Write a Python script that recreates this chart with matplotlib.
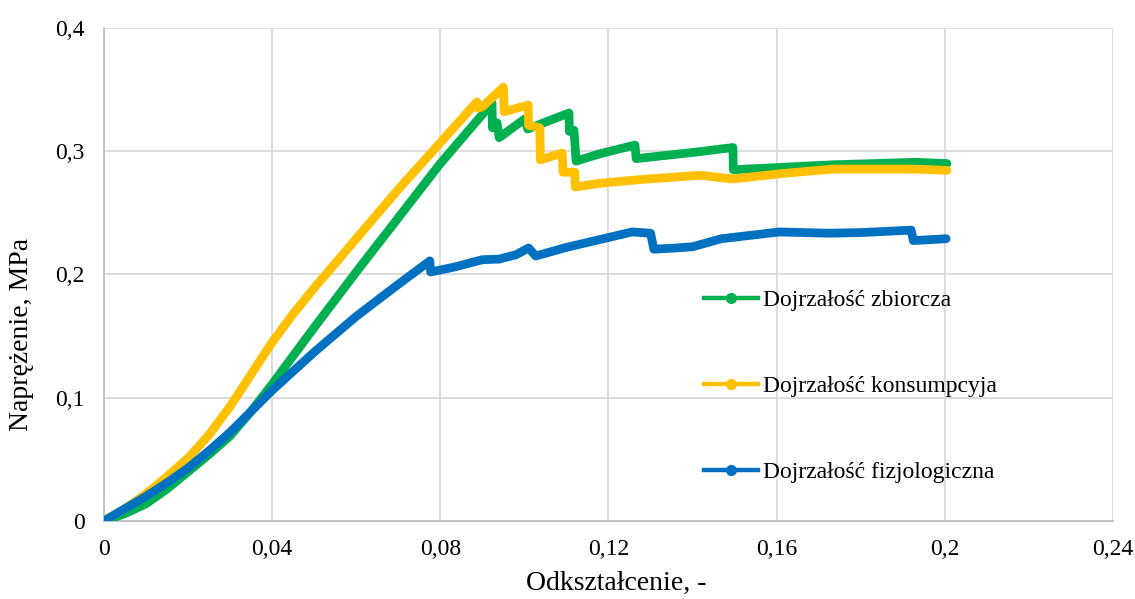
import matplotlib
matplotlib.use("Agg")
import matplotlib.pyplot as plt
from matplotlib.lines import Line2D

# --- Dane ---
x_zbiorcza = [0, 0.005, 0.01, 0.015, 0.02, 0.025, 0.03, 0.035, 0.04, 0.045, 0.05, 0.06, 0.07, 0.08,
              0.0923, 0.0924, 0.0935, 0.0940, 0.1000, 0.1008, 0.1015, 0.1106, 0.1107, 0.1118,
              0.1123, 0.1180, 0.1263, 0.1266, 0.1400, 0.1496, 0.1497, 0.1615, 0.1734, 0.1930, 0.2005]
y_zbiorcza = [0, 0.006, 0.014, 0.026, 0.040, 0.054, 0.069, 0.089, 0.111, 0.134, 0.157, 0.202, 0.246, 0.290,
              0.339, 0.319, 0.323, 0.311, 0.326, 0.318, 0.319, 0.331, 0.316, 0.317,
              0.292, 0.298, 0.305, 0.294, 0.299, 0.303, 0.285, 0.287, 0.289, 0.291, 0.290]

x_konsumpcyja = [0, 0.005, 0.01, 0.015, 0.02, 0.025, 0.03, 0.035, 0.04, 0.045, 0.05, 0.06, 0.07, 0.08,
                 0.0887, 0.0890, 0.0900, 0.0950, 0.0952, 0.1009, 0.1010, 0.1037, 0.1038, 0.1090,
                 0.1092, 0.1120, 0.1121, 0.1180, 0.1275, 0.1418, 0.1496, 0.1615, 0.1734, 0.1930, 0.2005]
y_konsumpcyja = [0, 0.010, 0.022, 0.036, 0.051, 0.070, 0.093, 0.119, 0.145, 0.168, 0.189, 0.229, 0.269, 0.307,
                 0.340, 0.335, 0.336, 0.352, 0.332, 0.3375, 0.321, 0.319, 0.293, 0.2985,
                 0.283, 0.283, 0.271, 0.274, 0.277, 0.2805, 0.2775, 0.282, 0.2855, 0.2855, 0.2845]

x_fizjologiczna = [0, 0.005, 0.01, 0.015, 0.02, 0.025, 0.03, 0.035, 0.04, 0.05, 0.06, 0.07, 0.0775,
                   0.0777, 0.0833, 0.0900, 0.0940, 0.0980, 0.1010, 0.1027, 0.1100, 0.1200, 0.1256,
                   0.1300, 0.1308, 0.1360, 0.1400, 0.1468, 0.1606, 0.1725, 0.1800, 0.1920, 0.1925, 0.2003]
y_fizjologiczna = [0, 0.010, 0.020, 0.031, 0.043, 0.057, 0.072, 0.089, 0.106, 0.137, 0.166, 0.192, 0.211,
                   0.202, 0.206, 0.212, 0.2125, 0.216, 0.2215, 0.215, 0.222, 0.230, 0.2345,
                   0.2335, 0.2205, 0.2215, 0.2225, 0.229, 0.2345, 0.2335, 0.234, 0.236, 0.2275, 0.229]

series_names = ["Dojrzałość zbiorcza", "Dojrzałość konsumpcyja", "Dojrzałość fizjologiczna"]
series_colors = ["#00B050", "#FFC000", "#0070C0"]

x_ticks = [0, 0.04, 0.08, 0.12, 0.16, 0.2, 0.24]
x_tick_labels = ["0", "0,04", "0,08", "0,12", "0,16", "0,2", "0,24"]
y_ticks = [0, 0.1, 0.2, 0.3, 0.4]
y_tick_labels = ["0", "0,1", "0,2", "0,3", "0,4"]

# --- Wykres ---
plt.rcParams['font.family'] = ['Liberation Serif', 'DejaVu Serif']

fig = plt.figure(figsize=(11.35, 5.99), dpi=100)
ax = fig.add_axes([0.0916, 0.1302, 0.8890, 0.8231])

series = [(x_zbiorcza, y_zbiorcza), (x_konsumpcyja, y_konsumpcyja), (x_fizjologiczna, y_fizjologiczna)]
for (xs, ys), color in zip(series, series_colors):
    ax.plot(xs, ys, color=color, lw=6.3, solid_capstyle='round', solid_joinstyle='round', zorder=3)

ax.set_xlim(0, 0.24)
ax.set_ylim(0, 0.4)
ax.set_xticks(x_ticks)
ax.set_xticklabels(x_tick_labels)
ax.set_yticks(y_ticks)
ax.set_yticklabels(y_tick_labels)
ax.tick_params(length=0, labelsize=17)
ax.tick_params(axis='x', pad=13)
ax.tick_params(axis='y', pad=14)

ax.grid(True, color='#d9d9d9', lw=1.3, zorder=0)
ax.set_axisbelow(True)
for side in ['top', 'right']:
    ax.spines[side].set_visible(False)
for side in ['left', 'bottom']:
    ax.spines[side].set_color('#bfbfbf')
    ax.spines[side].set_linewidth(1.3)

# tytuly osi - pozycje jak w Excelu
ax.set_xlabel("Odkształcenie, -", fontsize=20, va='center')
ax.xaxis.set_label_coords(0.508, -0.1258)
ax.set_ylabel("Naprężenie, MPa", fontsize=20, va='center')
ax.yaxis.set_label_coords(-0.0813, 0.379)

# legenda - osobne uchwyty (cienka linia z punktem)
handles = [Line2D([], [], color=c, lw=3.2, marker='o', markersize=7) for c in series_colors]
ax.legend(handles, series_names, loc='upper left', bbox_to_anchor=(0.585, 0.4885),
          frameon=False, fontsize=17, handlelength=2.3, handletextpad=0.2,
          labelspacing=2.73, numpoints=1, borderaxespad=0)

fig.savefig("out.png", dpi=100)
